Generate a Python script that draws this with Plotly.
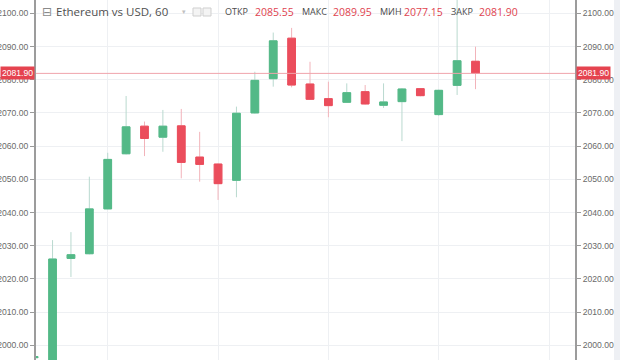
import plotly.graph_objects as go

# ---- data (Ethereum vs USD, 60-min candles) ----
idx = list(range(25))
opens  = [1996.3, 1990.0, 2026.2, 2027.6, 2041.1, 2057.7, 2066.0, 2062.7, 2066.1, 2056.7,
          2054.6, 2049.7, 2070.0, 2080.3, 2092.5, 2078.7, 2074.3, 2073.2, 2076.4, 2072.3,
          2073.4, 2077.3, 2069.5, 2078.3, 2085.55]
highs  = [1996.8, 2031.7, 2034.1, 2050.8, 2058.0, 2075.1, 2067.4, 2070.9, 2071.2, 2064.3,
          2054.8, 2071.9, 2082.4, 2094.2, 2095.6, 2085.4, 2079.4, 2078.9, 2078.4, 2078.9,
          2077.5, 2077.5, 2077.0, 2105.0, 2089.95]
lows   = [1996.2, 1988.0, 2020.6, 2027.4, 2041.0, 2057.5, 2057.0, 2058.3, 2050.3, 2049.3,
          2043.8, 2044.6, 2069.8, 2077.9, 2077.7, 2073.9, 2068.7, 2073.0, 2072.5, 2071.5,
          2061.5, 2075.0, 2069.1, 2075.4, 2077.15]
closes = [1996.6, 2026.0, 2027.3, 2041.1, 2056.0, 2065.8, 2062.3, 2066.0, 2055.1, 2054.5,
          2048.7, 2069.9, 2079.8, 2091.7, 2078.4, 2074.1, 2072.2, 2076.1, 2072.7, 2073.3,
          2077.2, 2075.2, 2076.8, 2085.7, 2081.90]

title_text = "Ethereum vs USD, 60"
ohlc_labels = ["ОТКР", "МАКС", "МИН", "ЗАКР"]
grid_x = [4, 10, 16, 22, 28]

GREEN = "#53b987"
RED = "#eb4d5c"
GREEN_WICK = "#b9d9cf"
RED_WICK = "#f2b3ba"

body_hi = [max(o, c) for o, c in zip(opens, closes)]
body_lo = [min(o, c) for o, c in zip(opens, closes)]

fig = go.Figure()
# wicks
fig.add_trace(go.Candlestick(
    x=idx, open=opens, high=highs, low=lows, close=closes,
    increasing=dict(line=dict(color=GREEN_WICK, width=1), fillcolor="rgba(0,0,0,0)"),
    decreasing=dict(line=dict(color=RED_WICK, width=1), fillcolor="rgba(0,0,0,0)"),
    hoverinfo="skip", showlegend=False, yaxis="y"))
# bodies
fig.add_trace(go.Candlestick(
    x=idx, open=opens, high=body_hi, low=body_lo, close=closes,
    increasing=dict(line=dict(color=GREEN, width=1), fillcolor=GREEN),
    decreasing=dict(line=dict(color=RED, width=1), fillcolor=RED),
    hoverinfo="skip", showlegend=False, yaxis="y2"))

YR = [1995.6, 2104.0]
L, R = 36, 45
W, H = 620, 360
PW = W - L - R

def px(xp):
    return (xp - L) / PW

def py(yp):
    return 1 - yp / H

axis_common = dict(range=YR, dtick=10, tick0=2000, tickformat=".2f",
                   ticks="outside", ticklen=4, tickcolor="#9a9a9a",
                   showline=True, linecolor="#9c9c9c", linewidth=2,
                   tickfont=dict(family="Liberation Sans, Arial", size=8.6, color="#6a6a6a"),
                   zeroline=False, fixedrange=True, automargin=False)

fig.update_layout(
    template="none",
    width=W, height=H,
    margin=dict(l=L, r=R, t=0, b=0, autoexpand=False),
    paper_bgcolor="white", plot_bgcolor="white",
    boxgap=0.4,
    xaxis=dict(range=[0.10, 29.41], tickvals=grid_x, showticklabels=False,
               showgrid=True, gridcolor="#eef0f3", gridwidth=1, zeroline=False,
               rangeslider=dict(visible=False), showline=False, ticks="", automargin=False),
    yaxis=dict(side="left", showgrid=True, gridcolor="#eef0f3", **axis_common),
    yaxis2=dict(side="right", overlaying="y", showgrid=False, **axis_common),
)

last_close = closes[-1]
price_txt = f"{last_close:.2f}"
fig.add_shape(type="line", xref="paper", yref="y", x0=0, x1=1, y0=last_close, y1=last_close,
              line=dict(color="#f0a3ab", width=1), layer="above")
for xa, anchor in [(0, "right"), (1, "left")]:
    fig.add_annotation(xref="paper", yref="y", x=xa, y=last_close, text=price_txt,
                       showarrow=False, xanchor=anchor, yanchor="middle",
                       bgcolor="#e5434f", borderpad=1,
                       font=dict(family="Liberation Sans, Arial", size=8.6, color="white"),
                       xshift=(-1 if xa == 0 else 1))

# right scrollbar strip
fig.add_shape(type="rect", xref="paper", yref="paper", x0=px(614), x1=px(621), y0=0, y1=1,
              fillcolor="#eef0f4", line=dict(width=0), layer="below")

# header
HY = py(12)
fig.add_annotation(xref="paper", yref="paper", x=px(40), y=HY, text="⊟", showarrow=False,
                   xanchor="left", yanchor="middle",
                   font=dict(family="DejaVu Sans", size=12, color="#8a8a8a"))
fig.add_annotation(xref="paper", yref="paper", x=px(54), y=HY, text=title_text, showarrow=False,
                   xanchor="left", yanchor="middle",
                   font=dict(family="Open Sans", size=11.5, color="#4f4f4f"))
fig.add_annotation(xref="paper", yref="paper", x=px(180), y=HY, text="▾", showarrow=False,
                   xanchor="left", yanchor="middle",
                   font=dict(family="DejaVu Sans", size=7, color="#c0c0c0"))
for x0 in (193, 203):
    fig.add_shape(type="rect", xref="paper", yref="paper", x0=px(x0), x1=px(x0 + 8),
                  y0=py(16), y1=py(8), fillcolor="#f4f4f4", line=dict(color="#cfcfcf", width=1))
vals = [opens[-1], highs[-1], lows[-1], closes[-1]]
lab_x = [223, 300, 378, 449]
val_x = [253, 331, 402, 477]
for lab, v, lx, vx in zip(ohlc_labels, vals, lab_x, val_x):
    fig.add_annotation(xref="paper", yref="paper", x=px(lx), y=HY, text=lab, showarrow=False,
                       xanchor="left", yanchor="middle",
                       font=dict(family="Open Sans", size=9, color="#4a4a4a"))
    fig.add_annotation(xref="paper", yref="paper", x=px(vx), y=HY, text=f"{v:.2f}",
                       showarrow=False, xanchor="left", yanchor="middle",
                       font=dict(family="Open Sans", size=10.5, color="#e0434f"))

fig.write_html("out.html", config={"displayModeBar": False, "staticPlot": True},
               post_script="document.body.style.margin='0';document.body.style.overflow='hidden';")
